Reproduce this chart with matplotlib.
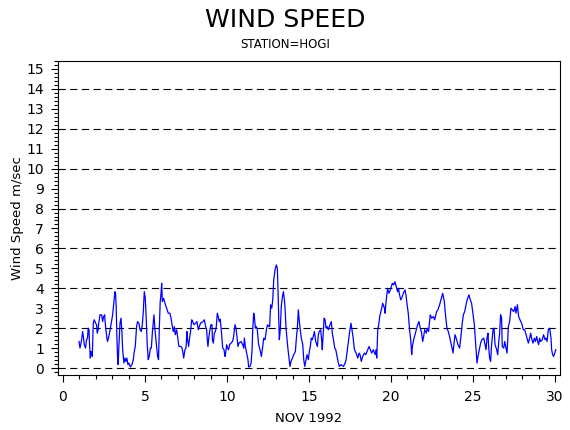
import matplotlib
matplotlib.use("Agg")
import matplotlib.pyplot as plt
from matplotlib.ticker import MultipleLocator

# ---- data (day of month, wind speed m/s) ----
days = [
    0.98, 1.04, 1.14, 1.20, 1.26, 1.30, 1.38, 1.44, 1.50, 1.54, 1.59, 1.61, 1.67, 1.71, 1.77, 1.79,
    1.85, 1.91, 1.99, 2.05, 2.09, 2.15, 2.17, 2.26, 2.36, 2.42, 2.48, 2.54, 2.60, 2.68, 2.72, 2.80,
    2.93, 3.03, 3.09, 3.17, 3.21, 3.25, 3.29, 3.33, 3.37, 3.41, 3.48, 3.54, 3.60, 3.64, 3.72, 3.78,
    3.84, 3.90, 3.96, 4.02, 4.11, 4.21, 4.29, 4.35, 4.41, 4.45, 4.49, 4.55, 4.63, 4.70, 4.78, 4.84,
    4.90, 4.96, 5.02, 5.06, 5.10, 5.14, 5.20, 5.26, 5.33, 5.39, 5.45, 5.55, 5.61, 5.77, 5.83, 5.87,
    5.93, 5.98, 6.02, 6.06, 6.14, 6.22, 6.32, 6.42, 6.52, 6.59, 6.67, 6.73, 6.79, 6.85, 6.93, 6.99,
    7.07, 7.20, 7.26, 7.32, 7.36, 7.44, 7.50, 7.56, 7.60, 7.66, 7.72, 7.78, 7.85, 7.91, 7.99, 8.09,
    8.17, 8.25, 8.31, 8.39, 8.54, 8.62, 8.70, 8.76, 8.80, 8.84, 8.90, 8.96, 9.02, 9.09, 9.11, 9.17,
    9.23, 9.29, 9.35, 9.41, 9.47, 9.53, 9.59, 9.65, 9.74, 9.82, 9.88,
    9.92, 9.98, 10.04, 10.10, 10.16, 10.25, 10.33, 10.39, 10.45, 10.49, 10.55, 10.61, 10.67, 10.73,
    10.86, 10.96, 11.02, 11.06, 11.12, 11.16, 11.22, 11.28, 11.32, 11.40, 11.47, 11.53, 11.57, 11.63,
    11.67, 11.73, 11.79, 11.85, 11.93, 11.99, 12.10, 12.18, 12.24, 12.32, 12.42, 12.48, 12.56, 12.60,
    12.66, 12.73, 12.79, 12.85, 12.93, 13.01, 13.07, 13.11, 13.15, 13.19, 13.25, 13.31, 13.38, 13.44,
    13.50, 13.54, 13.60, 13.70, 13.78, 13.84, 13.90, 13.99, 14.07, 14.17, 14.23, 14.29, 14.35, 14.41,
    14.47, 14.53, 14.62, 14.68, 14.74, 14.80, 14.88, 14.96, 15.02, 15.08, 15.14, 15.20, 15.29, 15.33,
    15.41, 15.51, 15.57, 15.63, 15.71, 15.77, 15.81, 15.86, 15.92, 15.98, 16.04, 16.10, 16.18, 16.28,
    16.36, 16.42, 16.49, 16.57, 16.63, 16.71, 16.79, 16.85, 16.95, 17.10, 17.20, 17.26, 17.34, 17.42,
    17.48, 17.56, 17.62, 17.68, 17.77, 17.87, 17.97, 18.05, 18.11, 18.19, 18.27, 18.38, 18.46, 18.54,
    18.66, 18.74, 18.82, 18.92, 19.03, 19.09, 19.13, 19.19, 19.25, 19.31, 19.43, 19.49, 19.60,
    19.63, 19.71, 19.79, 19.87, 19.96, 20.08, 20.16, 20.24, 20.32, 20.40, 20.46, 20.50, 20.59, 20.69,
    20.75, 20.85, 20.91, 20.97, 21.05, 21.13, 21.20, 21.26, 21.30, 21.38, 21.46, 21.54, 21.62, 21.70,
    21.78, 21.85, 21.93, 21.99, 22.05, 22.15, 22.21, 22.29, 22.39, 22.48, 22.58, 22.66, 22.78, 22.86,
    22.96, 23.04, 23.15, 23.25, 23.33, 23.41, 23.49, 23.57, 23.63, 23.70, 23.78, 23.84, 23.90, 24.00,
    24.08, 24.18, 24.26, 24.33, 24.41, 24.49, 24.59, 24.67, 24.75, 24.83, 24.91, 25.00, 25.08, 25.14,
    25.20, 25.24, 25.30, 25.38, 25.46, 25.54, 25.65, 25.73, 25.79, 25.85, 25.91, 25.95, 26.01, 26.07,
    26.13, 26.22, 26.28, 26.34, 26.44, 26.50, 26.56, 26.62, 26.68, 26.74, 26.78, 26.87, 26.93, 26.99,
    27.07, 27.11, 27.15, 27.23, 27.31, 27.39, 27.48, 27.56, 27.62, 27.70, 27.78, 27.86, 27.96, 28.06,
    28.15, 28.23, 28.31, 28.37, 28.45, 28.51, 28.59, 28.65, 28.74, 28.80, 28.88, 28.94, 29.00, 29.06,
    29.12, 29.22, 29.30, 29.39, 29.45, 29.51, 29.59, 29.67, 29.75, 29.79, 29.85, 29.91, 29.98, 30.04,
]
speed = [
    1.33, 1.00, 1.42, 1.83, 1.50, 1.17, 1.00, 1.42, 1.50, 2.00, 1.92, 1.42, 0.50, 0.83, 0.75, 0.58,
    2.25, 2.42, 2.25, 2.17, 1.75, 1.92, 2.17, 2.67, 2.67, 2.33, 2.58, 2.67, 2.08, 1.50, 1.33, 1.58,
    2.17, 2.67, 3.17, 3.83, 3.75, 3.00, 1.58, 0.58, 0.17, 1.08, 2.25, 2.50, 1.75, 0.92, 0.25, 0.50,
    0.33, 0.50, 0.17, 0.25, 0.05, 0.17, 0.42, 0.83, 1.08, 1.58, 2.08, 2.33, 2.25, 1.92, 1.83, 2.17,
    2.83, 3.83, 3.50, 2.83, 2.00, 1.17, 0.42, 0.58, 1.00, 1.00, 1.75, 2.67, 1.92, 0.58, 0.42, 1.83,
    3.33, 3.75, 4.25, 3.33, 3.50, 3.25, 3.00, 2.75, 2.75, 2.50, 2.08, 1.83, 2.08, 1.67, 1.92, 1.58,
    1.08, 1.08, 1.00, 0.75, 0.50, 0.92, 1.00, 1.83, 1.42, 1.08, 1.50, 1.83, 2.42, 2.33, 2.17, 2.25,
    2.33, 1.92, 2.08, 2.25, 2.33, 2.42, 2.08, 1.92, 1.42, 1.08, 1.58, 1.92, 2.17, 2.17, 1.42, 1.25,
    1.75, 1.83, 2.08, 2.75, 2.58, 2.33, 2.45, 1.92, 1.00, 0.92, 0.58,
    0.75, 1.17, 1.00, 0.92, 1.17, 1.25, 1.33, 1.50, 1.92, 2.17, 2.00, 1.58, 1.08, 1.25,
    1.33, 1.17, 1.00, 1.50, 1.08, 0.92, 0.67, 0.42, 0.05, 0.08, 0.25, 0.92, 1.92, 2.75,
    2.58, 2.00, 2.08, 1.92, 1.17, 1.00, 0.58, 1.08, 1.50, 1.42, 2.00, 2.17, 2.08, 2.08,
    3.17, 3.00, 3.42, 4.42, 4.92, 5.17, 5.00, 3.92, 2.58, 1.42, 1.92, 3.08, 3.58, 3.83,
    3.42, 3.00, 2.00, 1.08, 0.50, 0.08, 0.33, 0.50, 0.67, 0.83, 1.50, 2.00, 2.92, 2.33,
    1.92, 1.50, 1.17, 0.42, 0.08, 0.33, 0.67, 0.42, 0.83, 1.08, 1.50, 1.42, 1.67, 1.83,
    1.33, 1.08, 1.67, 1.83, 1.92, 1.42, 0.92, 1.67, 2.50, 2.42, 2.00, 2.08, 1.92, 2.17,
    2.33, 1.75, 1.42, 1.00, 0.92, 0.58, 0.25, 0.08, 0.17, 0.08, 0.25, 0.42, 0.92, 1.42,
    1.83, 2.25, 1.92, 1.58, 0.92, 0.75, 0.50, 0.75, 0.67, 0.33, 0.58, 0.75, 0.67, 0.83,
    1.08, 0.92, 0.75, 0.92, 0.67, 0.92, 0.50, 1.92, 2.17, 2.58, 3.00, 3.25, 3.00,
    2.75, 3.42, 4.00, 3.75, 3.92, 4.25, 4.17, 4.33, 4.08, 3.83, 4.00, 3.75, 3.42, 3.58,
    3.75, 3.92, 3.67, 3.25, 2.75, 1.92, 1.42, 0.67, 1.08, 1.42, 1.67, 1.92, 2.17, 2.33,
    2.00, 1.83, 1.33, 1.58, 1.92, 1.75, 2.00, 1.83, 2.67, 2.50, 2.58, 2.42, 2.83, 2.92,
    3.17, 3.42, 3.75, 3.33, 2.58, 2.00, 1.83, 1.58, 1.33, 1.08, 0.75, 1.25, 1.67, 1.42,
    1.17, 1.00, 1.58, 2.17, 2.67, 2.83, 3.25, 3.50, 3.67, 3.42, 3.25, 2.67, 2.17, 1.42,
    0.67, 0.25, 0.58, 0.92, 1.25, 1.42, 1.50, 1.17, 0.92, 1.50, 1.75, 1.08, 0.50, 0.33,
    1.17, 1.92, 2.00, 1.17, 0.92, 0.67, 1.25, 1.75, 2.67, 2.50, 1.08, 1.00, 1.33, 1.08,
    0.75, 1.33, 2.08, 2.33, 3.00, 2.92, 2.83, 3.08, 2.75, 3.17, 2.58, 2.42, 2.25, 1.92,
    1.92, 1.67, 1.42, 1.25, 1.50, 1.75, 1.42, 1.25, 1.50, 1.33, 1.58, 1.33, 1.17, 1.50,
    1.33, 1.42, 1.67, 1.42, 1.50, 1.33, 1.92, 2.00, 1.50, 0.92, 0.67, 0.58, 0.75, 0.92,
]
grid_levels = [0, 2, 4, 6, 8, 10, 12, 14]
x_ticks = [0, 5, 10, 15, 20, 25, 30]
y_ticks = list(range(0, 16))
title = "WIND SPEED"
subtitle = "STATION=HOGI"
x_label = "NOV 1992"
y_label = "Wind Speed m/sec"

plt.rcParams['font.family'] = ['DejaVu Sans']
fig = plt.figure(figsize=(5.7, 4.3), dpi=100)
ax = fig.add_axes([58/570, 1-375/430, 502/570, 314/430])

for g in grid_levels:
    ax.axhline(g, color='black', lw=0.8, linestyle=(0, (6.5, 4.0)), zorder=1)

ax.plot(days, speed, color='#0000ff', lw=0.9, zorder=2)

ax.set_xlim(-0.3, 30.3)
ax.set_ylim(-0.35, 15.4)
ax.set_xticks(x_ticks)
ax.set_yticks(y_ticks)
ax.xaxis.set_minor_locator(MultipleLocator(1))
ax.yaxis.set_minor_locator(MultipleLocator(0.2))
ax.tick_params(axis='both', which='major', direction='out', length=5, width=0.8,
               labelsize=10, colors='black')
ax.tick_params(axis='both', which='minor', direction='out', length=2.8, width=0.8)
ax.tick_params(axis='x', which='major', pad=6)
ax.tick_params(axis='y', which='major', pad=5)
for s in ax.spines.values():
    s.set_linewidth(0.8)

fig.text(0.5, 1-20/430, title, ha='center', va='center', fontsize=18)
fig.text(0.5, 1-44/430, subtitle, ha='center', va='center', fontsize=8.5)
fig.text(309/570, 1-418/430, x_label, ha='center', va='center', fontsize=9.5)
fig.text(18/570, 1-218/430, y_label, ha='center', va='center', rotation=90, fontsize=9.5)

fig.savefig('out.png', dpi=100)
